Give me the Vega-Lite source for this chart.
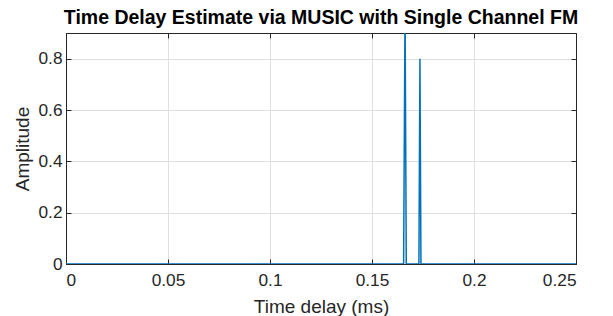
{
  "$schema": "https://vega.github.io/schema/vega-lite/v6.json",
  "autosize": "none",
  "width": 510,
  "height": 231,
  "padding": {"left": 66, "top": 33, "right": 37, "bottom": 52},
  "background": "white",
  "title": {"text": "Time Delay Estimate via MUSIC with Single Channel FM", "font": "Liberation Sans", "fontSize": 19.5, "fontWeight": "bold", "color": "#000000", "offset": 4},
  "config": {
    "view": {"stroke": "#262626", "strokeWidth": 1},
    "axis": {"labelFont": "Liberation Sans", "titleFont": "Liberation Sans", "labelFontSize": 17.3, "titleFontSize": 19, "titleFontWeight": "normal", "labelColor": "#262626", "titleColor": "#262626", "domainColor": "#262626", "tickColor": "#262626", "gridColor": "#dfdfdf", "gridWidth": 1}
  },
  "data": {"values": [
    {"t": 0, "a": 0},
    {"t": 0.1655, "a": 0},
    {"t": 0.1662, "a": 1.0},
    {"t": 0.1668, "a": 0},
    {"t": 0.1730, "a": 0},
    {"t": 0.1735, "a": 0.8},
    {"t": 0.1740, "a": 0},
    {"t": 0.25, "a": 0}
  ]},
  "layer": [
    {
      "mark": {"type": "line", "color": "#0072BD", "strokeWidth": 1.5, "clip": true},
      "encoding": {
        "x": {"field": "t", "type": "quantitative", "scale": {"domain": [0, 0.25], "nice": false}, "axis": {"title": "Time delay (ms)", "values": [0, 0.05, 0.1, 0.15, 0.2, 0.25], "format": "~g", "tickSize": -5, "labelPadding": 12, "titlePadding": 9}},
        "y": {"field": "a", "type": "quantitative", "scale": {"domain": [0, 0.9], "nice": false}, "axis": {"title": "Amplitude", "values": [0, 0.2, 0.4, 0.6, 0.8], "format": "~g", "tickSize": -5, "labelPadding": 9, "titlePadding": 5}}
      }
    },
    {
      "mark": {"type": "line", "opacity": 0, "clip": true},
      "encoding": {
        "x": {"field": "t", "type": "quantitative", "scale": {"domain": [0, 0.25], "nice": false}, "axis": {"orient": "top", "title": null, "labels": false, "grid": false, "values": [0, 0.05, 0.1, 0.15, 0.2, 0.25], "tickSize": -5}},
        "y": {"field": "a", "type": "quantitative", "scale": {"domain": [0, 0.9], "nice": false}, "axis": {"orient": "right", "title": null, "labels": false, "grid": false, "values": [0, 0.2, 0.4, 0.6, 0.8], "tickSize": -5}}
      }
    }
  ],
  "resolve": {"axis": {"x": "independent", "y": "independent"}}
}
